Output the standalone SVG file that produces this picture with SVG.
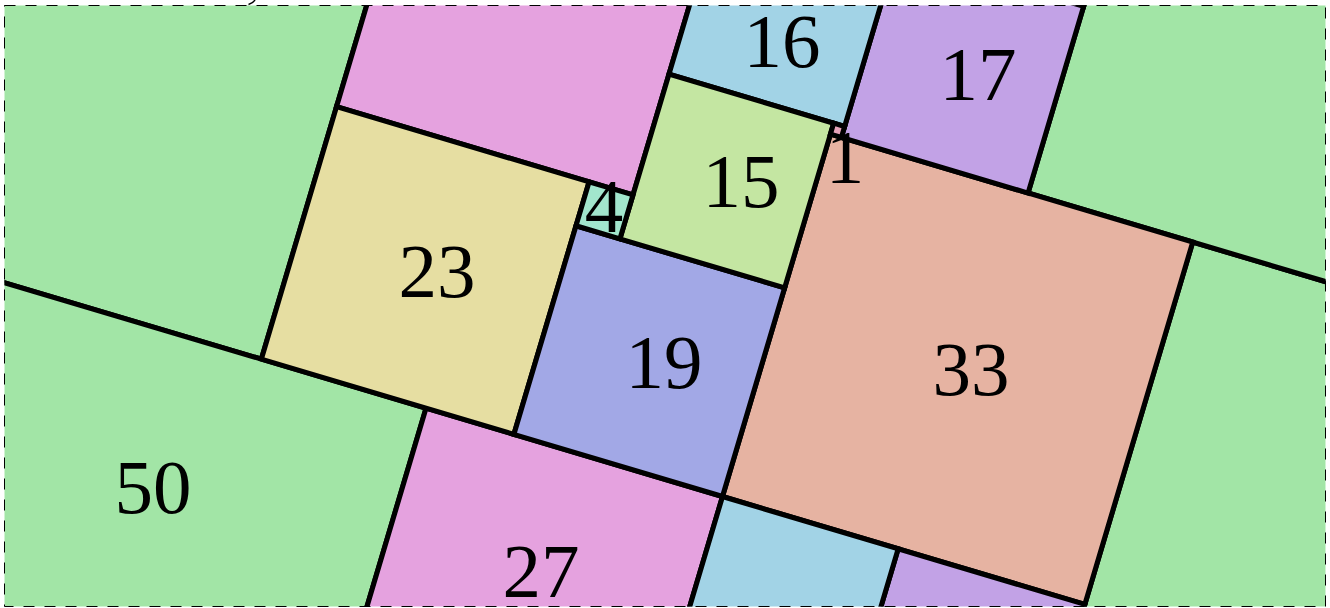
<svg xmlns="http://www.w3.org/2000/svg" width="1330" height="608" viewBox="0 0 1330 608">
<style>
.sq{stroke:#000;stroke-width:0.44;stroke-linejoin:miter}
.c50{fill:#a2e5a6}
.c33{fill:#e6b3a2}
.c27{fill:#e5a2df}
.c23{fill:#e6dea2}
.c19{fill:#a2a8e6}
.c17{fill:#c2a2e6}
.c16{fill:#a2d3e6}
.c15{fill:#c4e6a2}
.c4{fill:#a2e6cd}
.c1{fill:#e6a2b8}
.lbl{font-family:"Liberation Serif","Times New Roman",serif;font-size:77px;fill:#000;text-anchor:middle}
</style>
<defs>
<clipPath id="frame"><rect x="4.5" y="5.5" width="1321" height="601"/></clipPath>
</defs>
<rect width="1330" height="608" fill="#fff"/>
<g clip-path="url(#frame)">
<g id="tiles" transform="matrix(10.98 3.27 -3.27 10.98 722.5 496.5)">
<g id="sq50-topleft"><rect class="sq c50" x="-92" y="-50" width="50" height="50"/></g>
<g id="sq50"><rect class="sq c50" x="-77" y="0" width="50" height="50"/></g>
<g id="sq50-right-bottom"><rect class="sq c50" x="33" y="-33" width="50" height="50"/></g>
<g id="sq50-right-top"><rect class="sq c50" x="18" y="-83" width="50" height="50"/></g>
<g id="sq33-top"><rect class="sq c33" x="-15" y="-83" width="33" height="33"/></g>
<g id="sq33"><rect class="sq c33" x="0" y="-33" width="33" height="33"/></g>
<g id="sq27-top"><rect class="sq c27" x="-42" y="-50" width="27" height="27"/></g>
<g id="sq27"><rect class="sq c27" x="-27" y="0" width="27" height="27"/></g>
<g id="sq23"><rect class="sq c23" x="-42" y="-23" width="23" height="23"/></g>
<g id="sq19"><rect class="sq c19" x="-19" y="-19" width="19" height="19"/></g>
<g id="sq17-top"><rect class="sq c17" x="1" y="-50" width="17" height="17"/></g>
<g id="sq17-bottom"><rect class="sq c17" x="16" y="0" width="17" height="17"/></g>
<g id="sq16-top"><rect class="sq c16" x="-15" y="-50" width="16" height="16"/></g>
<g id="sq16-bottom"><rect class="sq c16" x="0" y="0" width="16" height="16"/></g>
<g id="sq15"><rect class="sq c15" x="-15" y="-34" width="15" height="15"/></g>
<g id="sq4"><rect class="sq c4" x="-19" y="-23" width="4" height="4"/></g>
<g id="sq1"><rect class="sq c1" x="0" y="-34" width="1" height="1"/></g>
</g>
</g>
<g id="labels">
<text class="lbl" x="153" y="513">50</text>
<text class="lbl" x="437" y="297">23</text>
<text class="lbl" x="664" y="388">19</text>
<text class="lbl" x="971" y="395">33</text>
<text class="lbl" x="741" y="207">15</text>
<text class="lbl" x="782" y="67">16</text>
<text class="lbl" x="978" y="100">17</text>
<text class="lbl" x="604" y="232">4</text>
<text class="lbl" x="845" y="183">1</text>
<text class="lbl" x="541" y="597">27</text>
</g>
<rect x="4.5" y="5.5" width="1321" height="601" fill="none" stroke="#000" stroke-width="1" stroke-dasharray="11 10"/>
<path d="M248.5,4.5 C251,3.8 253.5,2.2 255,0" fill="none" stroke="#000" stroke-width="1.4"/>
</svg>
